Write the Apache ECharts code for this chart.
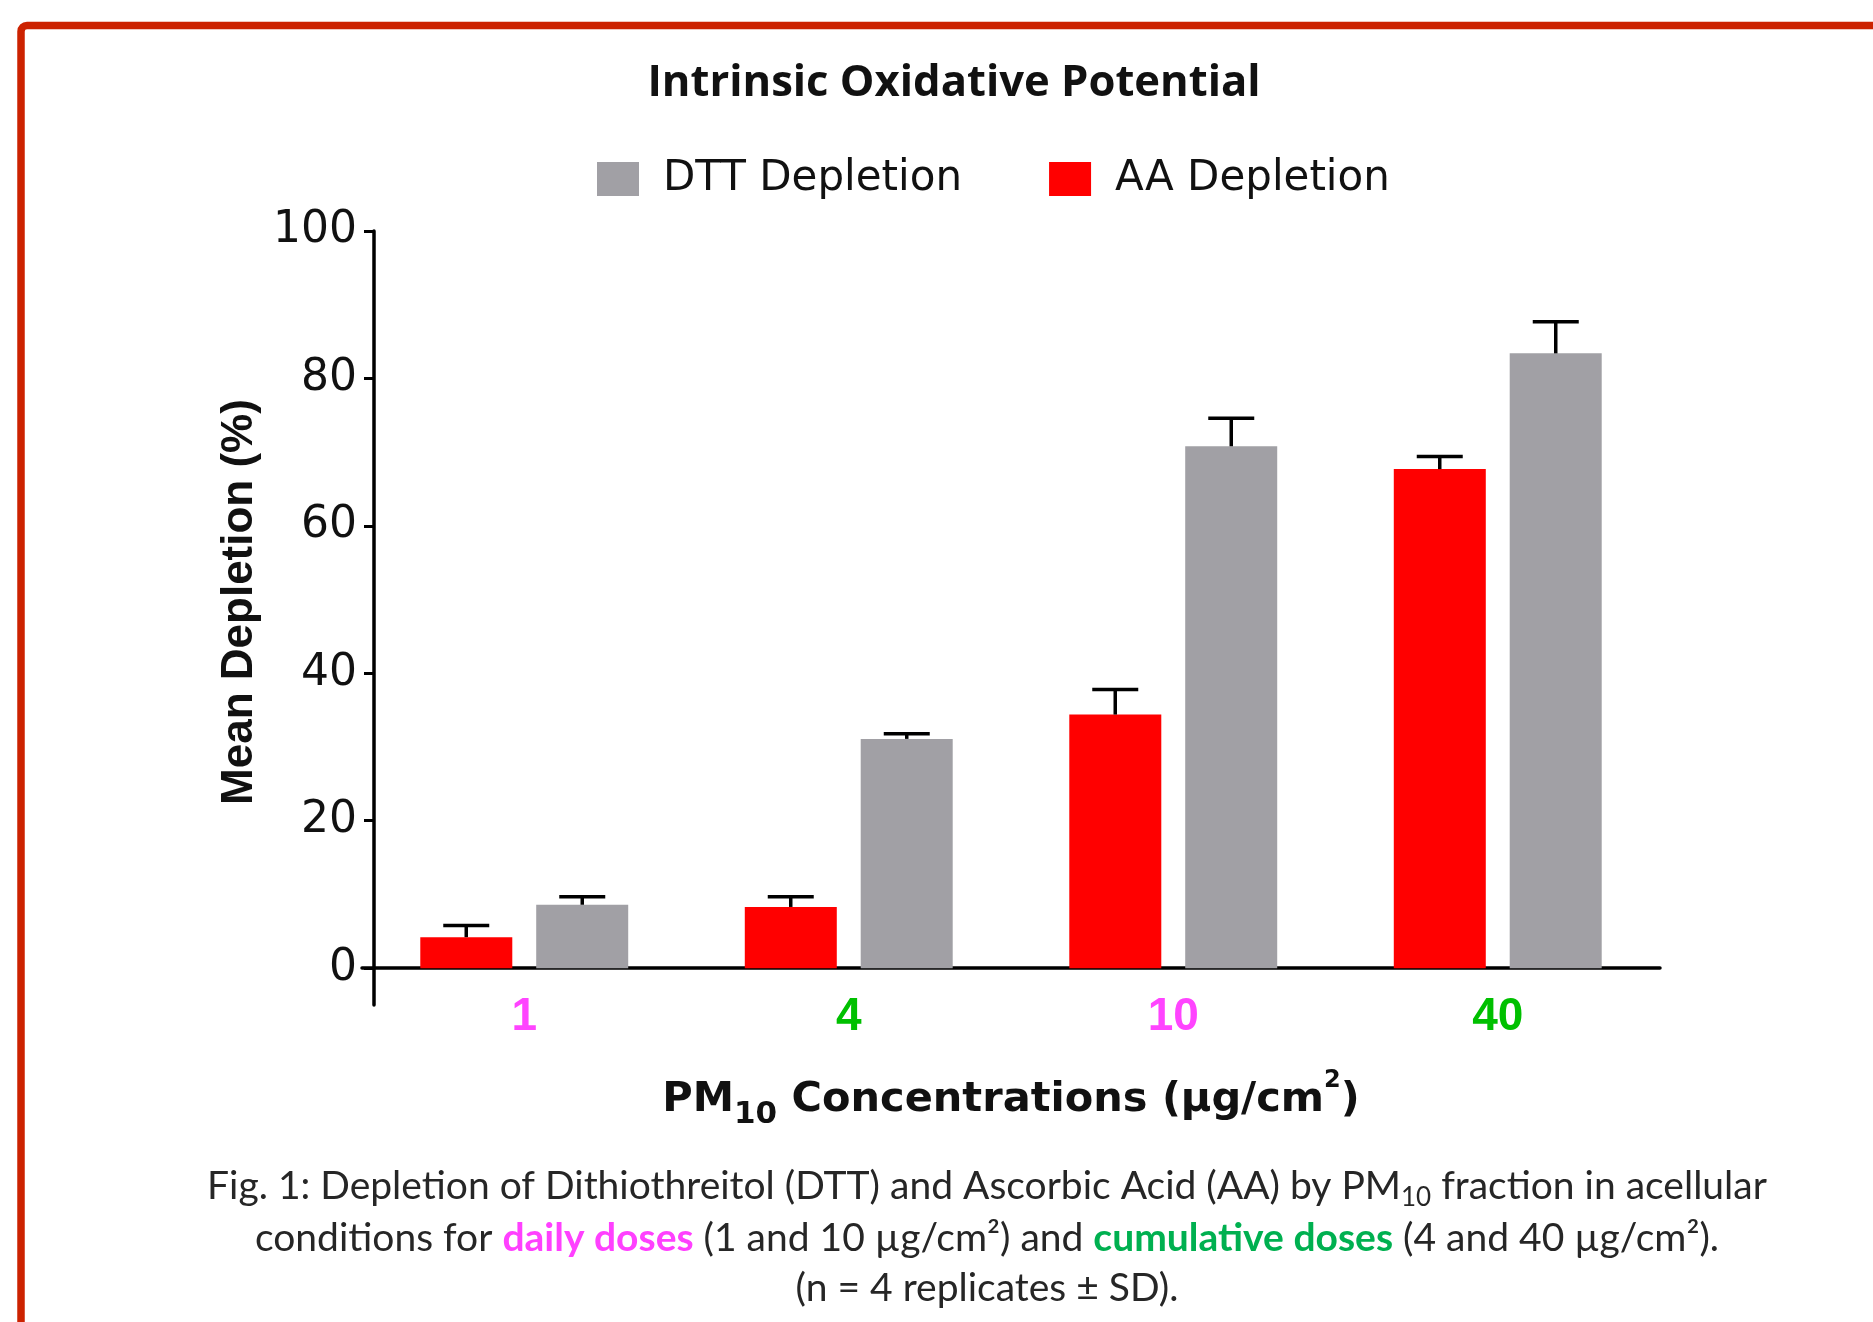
<!DOCTYPE html>
<html lang="en">
<head>
    <meta charset="UTF-8">
    <title>Intrinsic Oxidative Potential</title>
    <script src="https://cdn.jsdelivr.net/npm/echarts@6.0.0/dist/echarts.min.js"></script>
    <style>
        html, body { margin: 0; padding: 0; background: #ffffff; }
        #main { width: 1873px; height: 1322px; }
    </style>
</head>
<body>
    <div id="main"></div>
    <script type="text/javascript">
        // PM10 concentrations (µg/cm2)
        var doses = ['1', '4', '10', '40'];
        var doseColors = ['#ff44ff', '#00c000', '#ff44ff', '#00c000'];
        // mean depletion (%) and SD, n = 4
        var aaMean = [4.2, 8.3, 34.4, 67.7];
        var aaSD = [1.6, 1.4, 3.4, 1.7];
        var dttMean = [8.6, 31.1, 70.8, 83.4];
        var dttSD = [1.1, 0.7, 3.8, 4.3];
        var yTicks = [0, 20, 40, 60, 80, 100];

        var chart = echarts.init(document.getElementById('main'));

        // error bar (upper side only), offset = bar centre from category centre
        function errorBar(offset) {
            return function (params, api) {
                var i = api.value(0), m = api.value(1), s = api.value(2);
                var base = api.coord([i, m]);
                var top = api.coord([i, m + s]);
                var x = top[0] + offset;
                var st = { stroke: '#000', lineWidth: 3.5 };
                return {
                    type: 'group',
                    children: [
                        { type: 'line', shape: { x1: x, y1: base[1], x2: x, y2: top[1] }, style: st },
                        { type: 'line', shape: { x1: x - 23, y1: top[1], x2: x + 23, y2: top[1] }, style: st }
                    ]
                };
            };
        }

        // caption styles (zrender text, so fill instead of color)
        var capRich = {
            t: { fontFamily: 'Lato', fontSize: 39, fill: '#262626' },
            s: { fontFamily: 'Lato', fontSize: 26, fill: '#262626', padding: [24, 0, 0, 0] },
            p: { fontFamily: 'Lato', fontSize: 39, fontWeight: 'bold', fill: '#ff40ff' },
            g: { fontFamily: 'Lato', fontSize: 39, fontWeight: 'bold', fill: '#00b050' }
        };

        var option = {
            animation: false,
            backgroundColor: '#ffffff',
            title: {
                text: 'Intrinsic Oxidative Potential',
                left: 949,
                top: 57,
                textAlign: 'center',
                textStyle: { fontFamily: 'Open Sans', fontWeight: 'bold', fontSize: 43.6, color: '#111' }
            },
            legend: {
                data: ['DTT Depletion', 'AA Depletion'],
                left: 597,
                top: 158,
                icon: 'rect',
                itemWidth: 42,
                itemHeight: 34,
                itemGap: 87,
                padding: 0,
                textStyle: { fontFamily: 'DejaVu Sans', fontSize: 42, color: '#111', padding: [0, 0, 0, 19] }
            },
            grid: { left: 362, right: 213, top: 231, bottom: 317, containLabel: false },
            xAxis: {
                type: 'category',
                data: doses.map(function (d, i) {
                    return { value: d, textStyle: { color: doseColors[i] } };
                }),
                name: '{b|PM}{sub|10}{b| Concentrations (µg/cm}{sup|2}{b|)}',
                nameLocation: 'middle',
                nameGap: 70,
                nameTextStyle: {
                    rich: {
                        b: { fontFamily: 'DejaVu Sans', fontWeight: 'bold', fontSize: 41.5, lineHeight: 50, color: '#111' },
                        sub: { fontFamily: 'DejaVu Sans', fontWeight: 'bold', fontSize: 31, lineHeight: 36, color: '#111', padding: [29, 0, 0, 0] },
                        sup: { fontFamily: 'DejaVu Sans', fontWeight: 'bold', fontSize: 24, lineHeight: 28, color: '#111', padding: [0, 0, 39, 0] }
                    }
                },
                axisLine: { onZero: true, lineStyle: { color: '#000', width: 3.5 } },
                axisTick: { alignWithLabel: true, length: 10, lineStyle: { color: '#000', width: 3 } },
                axisLabel: { margin: -11, fontFamily: 'Liberation Sans', fontWeight: 'bold', fontSize: 46 }
            },
            yAxis: {
                type: 'value',
                min: -5,
                max: 100,
                offset: -12,
                name: 'Mean Depletion (%)',
                nameLocation: 'middle',
                nameGap: 112,
                nameTextStyle: { fontFamily: 'Liberation Sans', fontWeight: 'bold', fontSize: 44, color: '#111', padding: [0, 0, 0, 32] },
                axisLine: { show: true, lineStyle: { color: '#000', width: 3.5 } },
                axisTick: { show: true, customValues: yTicks, length: 10, lineStyle: { color: '#000', width: 3 } },
                axisLabel: { customValues: yTicks, margin: 17, fontFamily: 'DejaVu Sans', fontSize: 44, color: '#111' },
                splitLine: { show: false }
            },
            series: [
                {
                    name: 'AA Depletion',
                    type: 'bar',
                    data: aaMean,
                    barWidth: 92,
                    barGap: '26%',
                    itemStyle: { color: '#ff0000' }
                },
                {
                    name: 'DTT Depletion',
                    type: 'bar',
                    data: dttMean,
                    barWidth: 92,
                    itemStyle: { color: '#a1a0a5' }
                },
                {
                    type: 'custom',
                    renderItem: errorBar(-58),
                    encode: { x: 0, y: 1 },
                    data: aaMean.map(function (m, i) { return [i, m, aaSD[i]]; }),
                    z: 5
                },
                {
                    type: 'custom',
                    renderItem: errorBar(58),
                    encode: { x: 0, y: 1 },
                    data: dttMean.map(function (m, i) { return [i, m, dttSD[i]]; }),
                    z: 5
                }
            ],
            graphic: [
                {
                    type: 'rect',
                    shape: { x: 21, y: 25.5, width: 2000, height: 1400, r: 6 },
                    style: { fill: 'none', stroke: '#cc2200', lineWidth: 7.5 },
                    silent: true
                },
                {
                    type: 'text',
                    x: 987, y: 1186,
                    style: {
                        text: '{t|Fig. 1: Depletion of Dithiothreitol (DTT) and Ascorbic Acid (AA) by PM}{s|10}{t| fraction in acellular}',
                        rich: capRich, align: 'center', verticalAlign: 'middle'
                    }
                },
                {
                    type: 'text',
                    x: 987, y: 1238,
                    style: {
                        text: '{t|conditions for }{p|daily doses}{t| (1 and 10 µg/cm²) and }{g|cumulative doses}{t| (4 and 40 µg/cm²).}',
                        rich: capRich, align: 'center', verticalAlign: 'middle'
                    }
                },
                {
                    type: 'text',
                    x: 987, y: 1288,
                    style: {
                        text: '{t|(n = 4 replicates ± SD).}',
                        rich: capRich, align: 'center', verticalAlign: 'middle'
                    }
                }
            ]
        };

        chart.setOption(option);
    </script>
</body>
</html>
